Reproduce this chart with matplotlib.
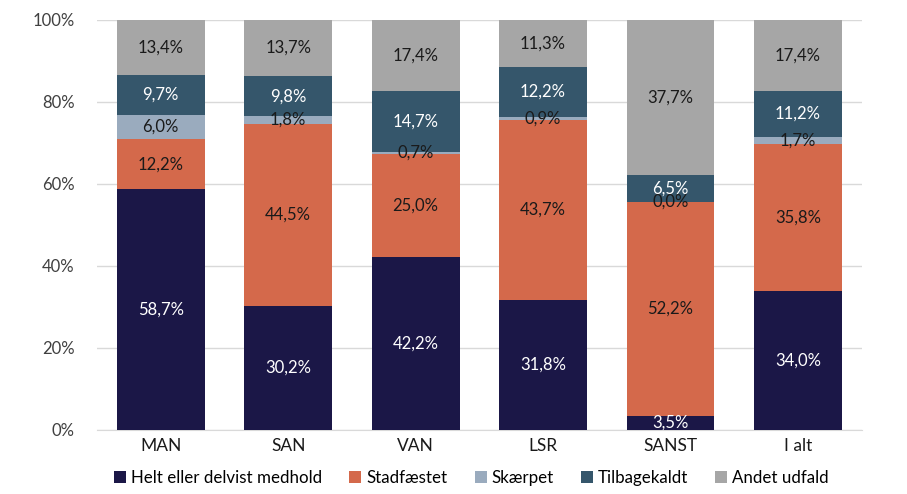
import matplotlib
matplotlib.use("Agg")
import matplotlib.pyplot as plt
import numpy as np

categories = ["MAN", "SAN", "VAN", "LSR", "SANST", "I alt"]
series_names = ["Helt eller delvist medhold", "Stadfæstet", "Skærpet", "Tilbagekaldt", "Andet udfald"]
helt = [58.7, 30.2, 42.2, 31.8, 3.5, 34.0]
stadf = [12.2, 44.5, 25.0, 43.7, 52.2, 35.8]
skaerpet = [6.0, 1.8, 0.7, 0.9, 0.0, 1.7]
tilbage = [9.7, 9.8, 14.7, 12.2, 6.5, 11.2]
andet = [13.4, 13.7, 17.4, 11.3, 37.7, 17.4]
yticks = [0, 20, 40, 60, 80, 100]

colors = ["#1b1747", "#d4694b", "#9aabbe", "#35566b", "#a6a6a6"]
text_colors = ["white", "#1a1a1a", "#1a1a1a", "white", "#1a1a1a"]

plt.rcParams['font.family'] = ['Lato', 'DejaVu Sans']

fig = plt.figure(figsize=(9.07, 4.94), dpi=100)
ax = fig.add_axes([0.107, 0.1296, 0.843, 0.83])

x = np.arange(len(categories))
bottom = np.zeros(len(categories))
data = [helt, stadf, skaerpet, tilbage, andet]
for vals, name, c, tc in zip(data, series_names, colors, text_colors):
    vals = np.array(vals)
    ax.bar(x, vals, 0.69, bottom=bottom, color=c, label=name, zorder=3)
    for xi, v, b in zip(x, vals, bottom):
        ax.text(xi, b + v / 2, f"{v:.1f}%".replace(".", ","), ha="center", va="center",
                color=tc, fontsize=12, zorder=4)
    bottom = bottom + vals

ax.set_xlim(-0.5, len(categories) - 0.5)
ax.set_ylim(0, 100)
ax.set_yticks(yticks)
ax.set_yticklabels([f"{t}%" for t in yticks], fontsize=12, color="#404040")
ax.set_xticks(x)
ax.set_xticklabels(categories, fontsize=12.5, color="#1a1a1a")
ax.tick_params(axis="both", length=0)
ax.tick_params(axis="y", pad=16)
ax.tick_params(axis="x", pad=6)
ax.grid(axis="y", color="#d9d9d9", linewidth=1, zorder=0)
for s in ["top", "right", "left"]:
    ax.spines[s].set_visible(False)
ax.spines["bottom"].set_color("#d9d9d9")

fig.legend(loc="lower center", bbox_to_anchor=(0.52, -0.014), ncol=5, frameon=False,
           fontsize=12.2, handlelength=0.7, handleheight=0.7, handletextpad=0.3, columnspacing=1.6)

fig.savefig("out.png", dpi=100)
